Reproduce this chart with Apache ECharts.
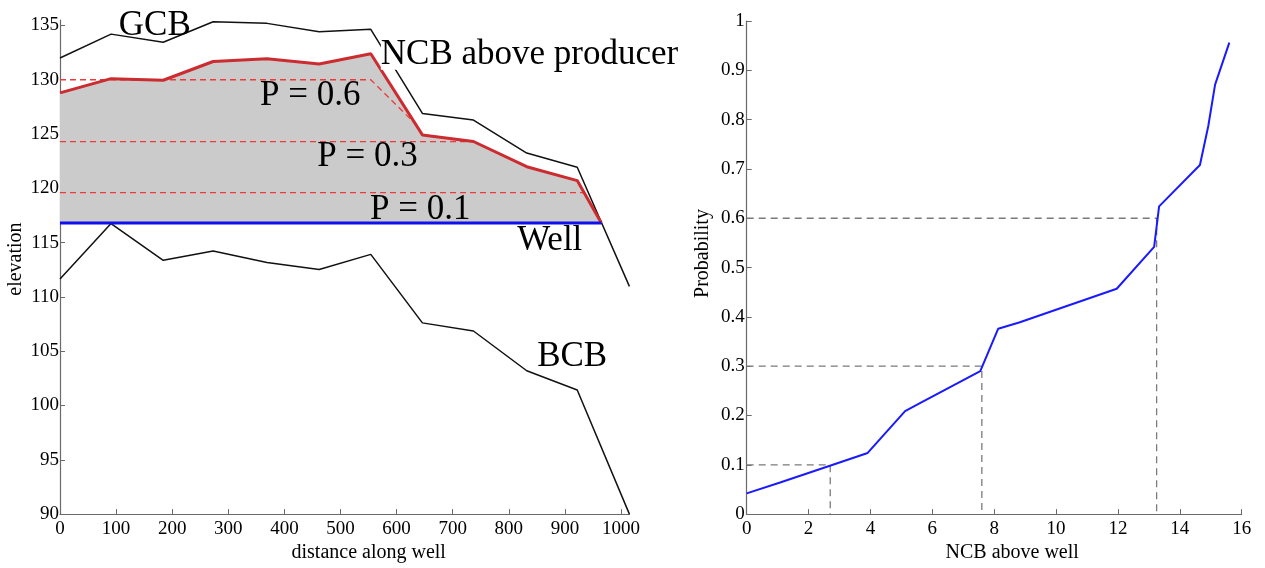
<!DOCTYPE html>
<html><head><meta charset="utf-8">
<script src="https://cdn.jsdelivr.net/npm/echarts@6/dist/echarts.min.js"></script>
<style>html,body{margin:0;padding:0;background:#fff}#c{width:1265px;height:568px}</style>
</head><body><div id="c"></div>
<script>
// ---- Left panel data (distance along well vs elevation) ----
const distX   = [0, 91, 184, 273, 369, 462, 554, 646, 737, 832, 922, 1015];
const gcbElev = [132.0, 134.2, 133.45, 135.34, 135.19, 134.42, 134.64, 126.9, 126.29, 123.25, 121.94, 110.97];
const bcbElev = [111.66, 116.75, 113.37, 114.22, 113.16, 112.52, 113.92, 107.61, 106.86, 103.2, 101.43, 90.0];
const ncbX    = [0, 91, 184, 273, 369, 462, 554, 646, 737, 832, 922, 965];
const ncbElev = [128.79, 130.1, 129.95, 131.68, 131.93, 131.45, 132.39, 124.92, 124.31, 121.99, 120.71, 116.8];
const wellElev = 116.8;
const wellX = [0, 965];
const p06X = [0, 554, 636];   const p06Y = [130.0, 130.0, 125.8];
const p03X = [0, 725];        const p03Y = [124.3, 124.3];
const p01X = [0, 933];        const p01Y = [119.6, 119.6];
const annoText = ['GCB', 'NCB above producer', 'P = 0.6', 'P = 0.3', 'P = 0.1', 'Well', 'BCB'];
const annoX = [169, 837, 446, 548, 642, 873, 913];
const annoY = [135.0, 132.3, 128.5, 122.9, 118.0, 115.2, 104.5];
const leftXTicks = [0, 100, 200, 300, 400, 500, 600, 700, 800, 900, 1000];
const leftYTicks = [90, 95, 100, 105, 110, 115, 120, 125, 130, 135];

// ---- Right panel data (NCB above well vs probability) ----
const ncbAboveWell = [0, 1.08, 2.69, 3.91, 5.12, 5.6, 7.55, 8.13, 8.83, 11.96, 13.17, 13.33, 14.65, 14.92, 15.14, 15.6];
const probability  = [0.042, 0.064, 0.098, 0.124, 0.209, 0.225, 0.29, 0.376, 0.389, 0.457, 0.542, 0.624, 0.708, 0.787, 0.871, 0.956];
const refProb = [0.1, 0.3, 0.6];
const refNcb  = [2.7, 7.6, 13.25];
const rightXTicks = [0, 2, 4, 6, 8, 10, 12, 14, 16];
const rightYTicks = [0, 0.1, 0.2, 0.3, 0.4, 0.5, 0.6, 0.7, 0.8, 0.9, 1];

const FONT = '"Liberation Serif", "DejaVu Serif", serif';
const pairs = (xs, ys) => xs.map((x, i) => [x, ys[i]]);

function axisBase(extra) {
  return Object.assign({
    type: 'value',
    axisLine: { show: true, onZero: false, lineStyle: { color: '#6a6a6a', width: 1.2 } },
    splitLine: { show: false }
  }, extra);
}
function lbl(vals, margin) {
  return { customValues: vals, margin: margin, fontFamily: FONT, fontSize: 19, color: '#000',
           formatter: v => String(v) };
}
function tick(vals) {
  return { show: true, inside: true, length: 5, customValues: vals, lineStyle: { color: '#6a6a6a', width: 1 } };
}
function nameStyle(padLeft) {
  return { fontFamily: FONT, fontSize: 20, color: '#000', padding: [0, 0, 0, padLeft] };
}

const chart = echarts.init(document.getElementById('c'), null, { renderer: 'canvas' });
chart.setOption({
  animation: false,
  backgroundColor: '#fff',
  grid: [
    { left: 60, right: 635.6, top: 20, bottom: 50.3, containLabel: false },
    { left: 746.7, right: 23.3, top: 21, bottom: 50.3, containLabel: false }
  ],
  xAxis: [
    axisBase({ gridIndex: 0, min: 0, max: 1015, name: 'distance along well', nameLocation: 'middle', nameGap: 25,
      nameTextStyle: nameStyle(48), axisTick: tick(leftXTicks), axisLabel: lbl(leftXTicks, 5) }),
    axisBase({ gridIndex: 1, min: 0, max: 16, name: 'NCB above well', nameLocation: 'middle', nameGap: 25,
      nameTextStyle: nameStyle(36), axisTick: tick(rightXTicks), axisLabel: lbl(rightXTicks, 5) })
  ],
  yAxis: [
    axisBase({ gridIndex: 0, min: 90, max: 135.5, name: 'elevation', nameLocation: 'middle', nameGap: 34,
      nameTextStyle: nameStyle(16), axisTick: tick(leftYTicks), axisLabel: lbl(leftYTicks, 1) }),
    axisBase({ gridIndex: 1, min: 0, max: 1, name: 'Probability', nameLocation: 'middle', nameGap: 34,
      nameTextStyle: nameStyle(28), axisTick: tick(rightYTicks), axisLabel: lbl(rightYTicks, 2) })
  ],
  series: [
    { type: 'custom', xAxisIndex: 0, yAxisIndex: 0, silent: true, z: 1, data: [[0, wellElev]],
      renderItem: function (params, api) {
        const pts = ncbX.map((x, i) => api.coord([x, ncbElev[i]]));
        pts.push(api.coord([wellX[1], wellElev]));
        pts.push(api.coord([wellX[0], wellElev]));
        return { type: 'polygon', shape: { points: pts }, style: { fill: '#cbcbcb' } };
      } },
    { type: 'line', xAxisIndex: 0, yAxisIndex: 0, z: 2, symbol: 'none', silent: true,
      data: pairs(p06X, p06Y), lineStyle: { color: '#ee3a3a', width: 1.3, type: [6, 4] } },
    { type: 'line', xAxisIndex: 0, yAxisIndex: 0, z: 2, symbol: 'none', silent: true,
      data: pairs(p03X, p03Y), lineStyle: { color: '#ee3a3a', width: 1.3, type: [6, 4] } },
    { type: 'line', xAxisIndex: 0, yAxisIndex: 0, z: 2, symbol: 'none', silent: true,
      data: pairs(p01X, p01Y), lineStyle: { color: '#ee3a3a', width: 1.3, type: [6, 4] } },
    { type: 'line', xAxisIndex: 0, yAxisIndex: 0, z: 3, symbol: 'none', silent: true, clip: false,
      data: pairs(distX, gcbElev), lineStyle: { color: '#111', width: 1.5 } },
    { type: 'line', xAxisIndex: 0, yAxisIndex: 0, z: 3, symbol: 'none', silent: true, clip: false,
      data: pairs(distX, bcbElev), lineStyle: { color: '#111', width: 1.5 } },
    { type: 'line', xAxisIndex: 0, yAxisIndex: 0, z: 4, symbol: 'none', silent: true,
      data: pairs(ncbX, ncbElev), lineStyle: { color: '#cc2b2f', width: 3 } },
    { type: 'line', xAxisIndex: 0, yAxisIndex: 0, z: 4, symbol: 'none', silent: true,
      data: wellX.map(x => [x, wellElev]), lineStyle: { color: '#1010ee', width: 3 } },
    { type: 'scatter', xAxisIndex: 0, yAxisIndex: 0, z: 6, silent: true, symbolSize: 0.1,
      itemStyle: { color: 'rgba(0,0,0,0)' },
      data: annoText.map((t, i) => {
        const item = { name: t, value: [annoX[i], annoY[i]] };
        if (i === 1) item.label = { backgroundColor: '#fff', lineHeight: 30 };
        return item;
      }),
      label: { show: true, position: 'inside', formatter: '{b}', fontFamily: FONT, fontSize: 35,
               color: '#000', opacity: 1, textBorderWidth: 0 } },
    // right panel
    ...refProb.map((p, i) => ({
      type: 'line', xAxisIndex: 1, yAxisIndex: 1, z: 2, symbol: 'none', silent: true,
      data: [[0, p], [refNcb[i], p], [refNcb[i], 0]],
      lineStyle: { color: '#7a7a7a', width: 1.3, type: [7, 5] } })),
    { type: 'line', xAxisIndex: 1, yAxisIndex: 1, z: 3, symbol: 'none', silent: true,
      data: pairs(ncbAboveWell, probability), lineStyle: { color: '#1a1aff', width: 2 } }
  ]
});
</script>
</body></html>
